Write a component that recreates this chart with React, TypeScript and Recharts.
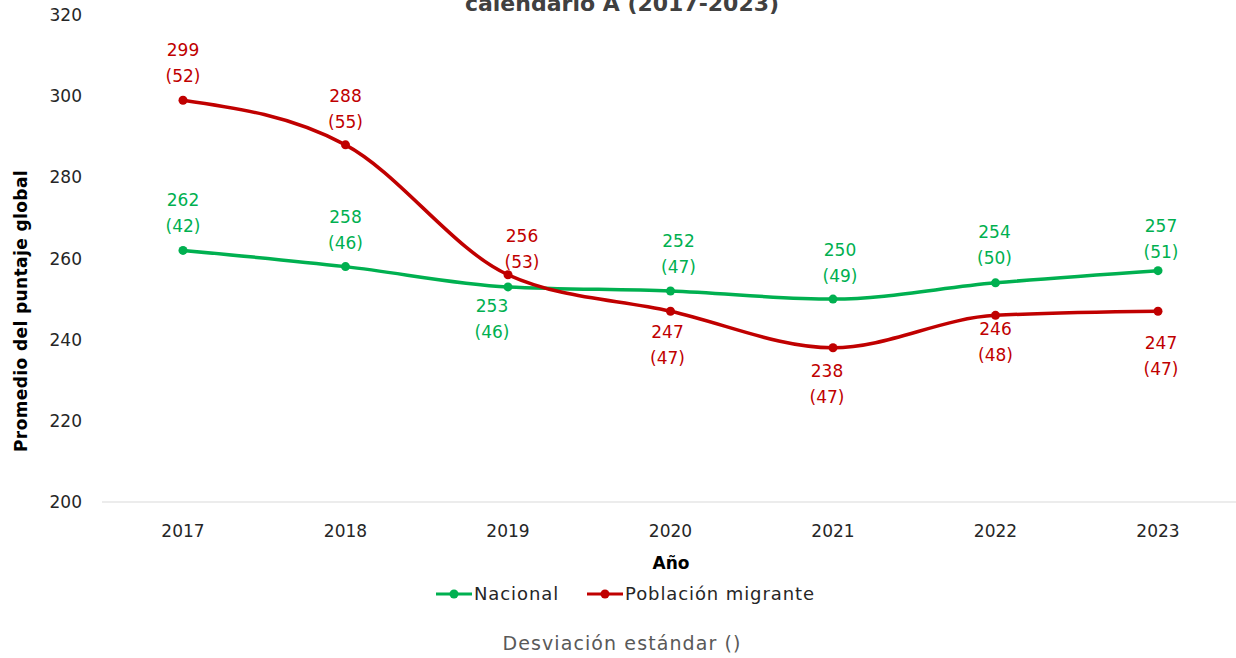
import React from "react";
import { LineChart, Line, XAxis, YAxis, LabelList } from "recharts";

// Años y promedios
const years = ["2017", "2018", "2019", "2020", "2021", "2022", "2023"];
const nacional = [262, 258, 253, 252, 250, 254, 257];
const nacionalSd = [42, 46, 46, 47, 49, 50, 51];
const migrante = [299, 288, 256, 247, 238, 246, 247];
const migranteSd = [52, 55, 53, 47, 47, 48, 47];
const yTicks = [200, 220, 240, 260, 280, 300, 320];

// desplazamiento de cada etiqueta respecto a su punto (layout, no datos)
const nacionalOffsets = [
  [0, -50], [0, -50], [-16, 19], [8, -50], [7, -49], [-1, -51], [3, -45],
];
const migranteOffsets = [
  [0, -50], [0, -49], [14, -39], [-3, 21], [-6, 23], [0, 14], [3, 32],
];

const GREEN = "#00B050";
const RED = "#C00000";
const FONT = "'DejaVu Sans', sans-serif";

const data = years.map((year, i) => ({
  year,
  nacional: nacional[i],
  nacionalSd: nacionalSd[i],
  migrante: migrante[i],
  migranteSd: migranteSd[i],
}));

function makeLabel(sd: number[], offsets: number[][], color: string) {
  return (props: any) => {
    const { x, y, value, index } = props;
    const [dx, dy] = offsets[index];
    return (
      <g>
        <text
          x={x + dx}
          y={y + dy}
          textAnchor="middle"
          dominantBaseline="central"
          fill={color}
          fontSize={17}
          fontFamily={FONT}
        >
          {value}
        </text>
        <text
          x={x + dx}
          y={y + dy + 26}
          textAnchor="middle"
          dominantBaseline="central"
          fill={color}
          fontSize={17}
          fontFamily={FONT}
        >
          ({sd[index]})
        </text>
      </g>
    );
  };
}

function LegendItem({ color, label }: { color: string; label: string }) {
  return (
    <span style={{ display: "inline-flex", alignItems: "center", marginRight: 28 }}>
      <svg width={36} height={12} style={{ marginRight: 2 }}>
        <line x1={0} y1={6} x2={36} y2={6} stroke={color} strokeWidth={3} />
        <circle cx={18} cy={6} r={4.5} fill={color} />
      </svg>
      <span>{label}</span>
    </span>
  );
}

export default function App() {
  return (
    <div
      style={{
        position: "absolute",
        left: 0,
        top: 0,
        width: 1236,
        height: 658,
        overflow: "hidden",
        background: "#fff",
        fontFamily: FONT,
      }}
    >
      <div
        style={{
          position: "absolute",
          top: -9,
          left: 0,
          width: 1244,
          textAlign: "center",
          fontSize: 22,
          lineHeight: "26px",
          fontWeight: "bold",
          color: "#404040",
        }}
      >
        calendario A (2017-2023)
      </div>

      <LineChart
        width={1236}
        height={658}
        data={data}
        margin={{ top: 15, right: -3, left: 0, bottom: 126 }}
      >
        <XAxis
          dataKey="year"
          padding={{ left: 81, right: 81 }}
          axisLine={{ stroke: "#d9d9d9", strokeWidth: 1 }}
          tickLine={false}
          tickSize={0}
          tickMargin={23}
          tick={{ fill: "#262626", fontSize: 17, fontFamily: FONT }}
        />
        <YAxis
          width={102}
          domain={[200, 320]}
          ticks={yTicks}
          axisLine={false}
          tickLine={false}
          tickSize={0}
          tickMargin={20}
          tick={{ fill: "#262626", fontSize: 17, fontFamily: FONT }}
        />
        <Line
          dataKey="nacional"
          type="monotone"
          stroke={GREEN}
          strokeWidth={3.5}
          dot={{ r: 4.5, fill: GREEN, stroke: GREEN, strokeWidth: 0 }}
          activeDot={false}
          isAnimationActive={false}
        >
          <LabelList dataKey="nacional" content={makeLabel(nacionalSd, nacionalOffsets, GREEN)} />
        </Line>
        <Line
          dataKey="migrante"
          type="monotone"
          stroke={RED}
          strokeWidth={3.5}
          dot={{ r: 4.5, fill: RED, stroke: RED, strokeWidth: 0 }}
          activeDot={false}
          isAnimationActive={false}
        >
          <LabelList dataKey="migrante" content={makeLabel(migranteSd, migranteOffsets, RED)} />
        </Line>
      </LineChart>

      <div
        style={{
          position: "absolute",
          left: 21,
          top: 311,
          transform: "translate(-50%, -50%) rotate(-90deg)",
          whiteSpace: "nowrap",
          fontSize: 17,
          letterSpacing: 0.4,
          fontWeight: "bold",
          color: "#000",
        }}
      >
        Promedio del puntaje global
      </div>

      <div
        style={{
          position: "absolute",
          top: 553,
          left: 0,
          width: 1342,
          textAlign: "center",
          fontSize: 17,
          fontWeight: "bold",
          color: "#000",
        }}
      >
        Año
      </div>

      <div
        style={{
          position: "absolute",
          top: 583,
          left: 436,
          fontSize: 18,
          letterSpacing: 0.9,
          color: "#262626",
          display: "flex",
          whiteSpace: "nowrap",
        }}
      >
        <LegendItem color={GREEN} label="Nacional" />
        <LegendItem color={RED} label="Población migrante" />
      </div>

      <div
        style={{
          position: "absolute",
          top: 632,
          left: 0,
          width: 1244,
          textAlign: "center",
          fontSize: 19,
          letterSpacing: 1.1,
          color: "#595959",
        }}
      >
        Desviación estándar ()
      </div>
    </div>
  );
}
